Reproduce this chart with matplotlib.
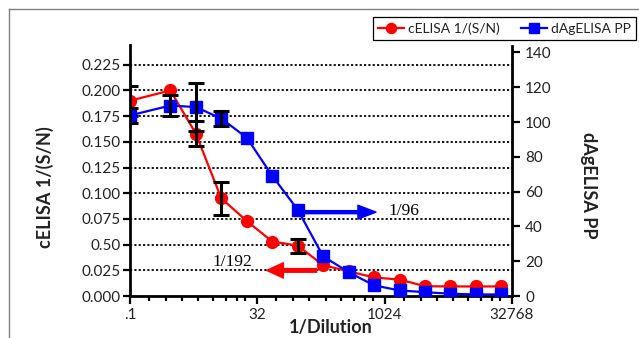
import numpy as np
import matplotlib
matplotlib.use('Agg')
import matplotlib.pyplot as plt
from matplotlib.lines import Line2D

plt.rcParams['font.family'] = ['Lato', 'DejaVu Sans']

# ---- data ----
dilutions = [1, 3, 6, 12, 24, 48, 96, 192, 384, 768, 1536, 3072, 6144, 12288, 24576]
celisa = [0.190, 0.200, 0.158, 0.095, 0.073, 0.053, 0.049, 0.030, 0.024,
          0.018, 0.016, 0.0095, 0.0093, 0.0093, 0.0093]
celisa_err = [0.0146, 0, 0.012, 0.016, 0, 0, 0.0068, 0, 0, 0, 0, 0, 0, 0, 0]
dag_pp = [103.8, 109.5, 108.6, 102.0, 91.0, 69.1, 49.6, 22.8, 13.7,
          6.1, 3.2, 2.2, 1.3, 0.9, 0.9]
dag_err = [4.1, 6.3, 13.8, 4.3, 0, 0, 0, 0, 0, 0, 0, 0, 0, 0, 0]

left_ticks = [0.000, 0.025, 0.050, 0.075, 0.100, 0.125, 0.150, 0.175, 0.200, 0.225]
left_labels = ['0.000', '0.025', '0.50', '0.075', '0.100', '0.125', '0.150',
               '0.175', '0.200', '0.225']
right_ticks = [0, 20, 40, 60, 80, 100, 120, 140]
x_ticks = [1, 32, 1024, 32768]
x_labels = ['.1', '32', '1024', '32768']

label_left = 'cELISA 1/(S/N)'
label_right = 'dAgELISA PP'
label_x = '1/Dilution'

RED = '#ff0000'
BLUE = '#0000ff'

fig = plt.figure(figsize=(6.39, 3.38), dpi=100)
W, H = 639, 338
ax = fig.add_axes([130 / W, 42 / H, 382 / W, 250.5 / H])
ax2 = ax.twinx()

ax.set_xscale('log', base=2)
ax.set_xlim(1, 32768)
ax.set_ylim(0, 0.2437)
ax2.set_ylim(0, 144)

# grid lines (dotted) at left ticks
for t in left_ticks[1:]:
    ax.axhline(t, color='black', ls=(0, (1.2, 1.2)), lw=1.3, zorder=0.5)

# red series
ax.plot(dilutions, celisa, color=RED, lw=1.6, marker='o', ms=8.5,
        markeredgecolor=RED, zorder=3, label=label_left)
idx = [i for i, e in enumerate(celisa_err) if e > 0]
ax.errorbar([dilutions[i] for i in idx], [celisa[i] for i in idx],
            yerr=[celisa_err[i] for i in idx], fmt='none', ecolor='black',
            elinewidth=2.2, capsize=5.5, capthick=2.2, zorder=4)

# blue series
ax2.plot(dilutions, dag_pp, color=BLUE, lw=1.6, marker='s', ms=8.5,
         markeredgecolor=BLUE, zorder=3, label=label_right)
idx = [i for i, e in enumerate(dag_err) if e > 0]
ax2.errorbar([dilutions[i] for i in idx], [dag_pp[i] for i in idx],
             yerr=[dag_err[i] for i in idx], fmt='none', ecolor='black',
             elinewidth=2.2, capsize=5.5, capthick=2.2, zorder=4)

# annotations
ax2.annotate('', xy=(809, 48.2), xytext=(117, 48.2),
             arrowprops=dict(color=BLUE, width=2.2, headwidth=10,
                             headlength=13, shrink=0), zorder=5)
ax2.text(1120, 48.6, '1/96', ha='left', va='center',
         family='Liberation Serif', fontsize=12.5)
ax.annotate('', xy=(41.3, 0.0249), xytext=(161, 0.0249),
            arrowprops=dict(color=RED, width=2.6, headwidth=11,
                            headlength=12, shrink=0), zorder=5)
ax.text(16.3, 0.0335, '1/192', ha='center', va='center',
        family='Liberation Serif', fontsize=12.5)

# axes styling
for a in (ax, ax2):
    for s in a.spines.values():
        s.set_linewidth(2.0)
    a.spines['top'].set_visible(False)
ax.spines['right'].set_visible(False)
ax2.spines['left'].set_visible(False)
ax2.spines['bottom'].set_visible(False)

ax.set_yticks(left_ticks)
ax.set_yticklabels(left_labels)
ax2.set_yticks(right_ticks)
ax.set_xticks(x_ticks)
ax.set_xticklabels(x_labels)

# minor ticks on x (irregular, as in reference)
offs = np.array([19, 36, 52, 68, 83, 96, 107, 115]) / 127 * 5
minors = [m * 2 ** o for m in x_ticks[:-1] for o in offs]
ax.set_xticks(minors, minor=True)
ax.xaxis.set_minor_formatter(matplotlib.ticker.NullFormatter())

ax.tick_params(axis='both', which='major', length=5, width=1.6, labelsize=11,
               pad=2, colors='black', labelcolor='#222222')
ax.tick_params(axis='x', which='minor', length=3.5, width=1.6)
ax.tick_params(axis='x', which='major', length=5.5, pad=3)
ax2.tick_params(axis='y', which='major', length=5.5, width=1.6, labelsize=11,
                pad=4, labelcolor='#222222')

ax.set_ylabel(label_left, fontsize=13, fontweight='bold', color='#222222')
ax.yaxis.set_label_coords((45 - 130) / 382, (296 - 187) / 250.5)
ax.yaxis.label.set_va('center')
ax2.set_ylabel(label_right, fontsize=13, fontweight='bold', rotation=270,
               color='#222222')
ax2.yaxis.set_label_coords((588.5 - 130) / 382, (296 - 185) / 250.5)
ax2.yaxis.label.set_va('center')
ax.set_xlabel(label_x, fontsize=13, fontweight='bold', color='#222222')
ax.xaxis.set_label_coords((331 - 130) / 382, (296 - 328) / 250.5)
ax.xaxis.label.set_va('center')

# legend
h1, l1 = ax.get_legend_handles_labels()
h2, l2 = ax2.get_legend_handles_labels()
leg = fig.legend(h1 + h2, l1 + l2, loc='upper left',
                 bbox_to_anchor=(372.7 / W, 1 - 17.3 / H), ncol=2,
                 frameon=True, fancybox=False, edgecolor='black', framealpha=1,
                 borderpad=0.35, borderaxespad=0, handlelength=1.9,
                 handletextpad=0.3, columnspacing=1.5, fontsize=10,
                 markerscale=0.85)
leg.get_frame().set_linewidth(0.9)
for t in leg.get_texts():
    t.set_color('#222222')

# outer frame (grey)
fig.add_artist(Line2D([9.3 / W, 1], [1 - 9.3 / H] * 2, transform=fig.transFigure,
                      color='#808080', lw=1.0))
fig.add_artist(Line2D([9.3 / W] * 2, [0, 1 - 9.3 / H], transform=fig.transFigure,
                      color='#808080', lw=1.0))

fig.savefig('out.png', dpi=100)
